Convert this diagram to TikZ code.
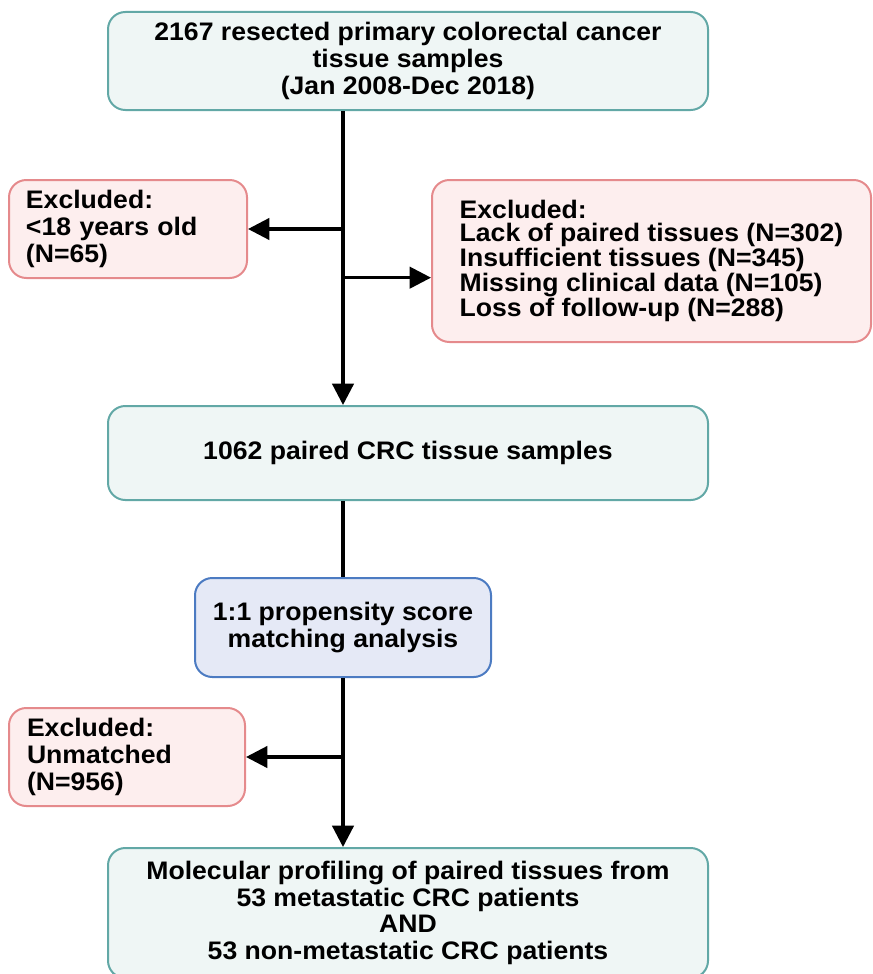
\documentclass[tikz,border=0pt]{standalone}
\usepackage{fontspec}
\setmainfont{Liberation Sans}[FakeStretch=1.05]
\usetikzlibrary{arrows.meta}
\definecolor{tealfill}{HTML}{EFF6F5}
\definecolor{tealdraw}{HTML}{62A8A6}
\definecolor{pinkfill}{HTML}{FDEEEE}
\definecolor{pinkdraw}{HTML}{E58A8C}
\definecolor{bluefill}{HTML}{E5E9F6}
\definecolor{bluedraw}{HTML}{4C7BC2}
\tikzset{
  box/.style={rounded corners=13pt, line width=1.5pt, inner sep=0pt,
    font=\bfseries\fontsize{19}{20}\selectfont},
  tealbox/.style={box, fill=tealfill, draw=tealdraw, align=center},
  pinkbox/.style={box, fill=pinkfill, draw=pinkdraw, align=left},
  bluebox/.style={box, fill=bluefill, draw=bluedraw, align=center},
  conn/.style={line width=2.4pt},
  arr/.style={conn, -{Triangle[length=16pt,width=16pt]}}
}
\begin{document}
\begin{tikzpicture}[x=0.75pt,y=-0.75pt]
\useasboundingbox (0,0) rectangle (873,974);
\clip (0,0) rectangle (873,974);
\node[tealbox, minimum width=600*0.75pt, minimum height=98*0.75pt] (top) at (408,61)
  {2167 resected primary colorectal cancer\\tissue samples\\(Jan 2008-Dec 2018)};
\node[pinkbox, minimum width=238*0.75pt, minimum height=98*0.75pt, text width=204*0.75pt] (ex1) at (128,229)
  {Excluded:\\<18 years old\\(N=65)};
\node[pinkbox, minimum width=439*0.75pt, minimum height=162*0.75pt,
  font=\bfseries\fontsize{19}{17.4}\selectfont] (ex2) at (651.5,261)
  {Excluded:\\Lack of paired tissues (N=302)\\Insufficient tissues (N=345)\\Missing clinical data (N=105)\\Loss of follow-up (N=288)};
\node[tealbox, minimum width=600*0.75pt, minimum height=94*0.75pt] (mid) at (408,453)
  {1062 paired CRC tissue samples};
\node[bluebox, minimum width=296*0.75pt, minimum height=99*0.75pt] (psm) at (343,627.5)
  {1:1 propensity score\\matching analysis};
\node[pinkbox, minimum width=236*0.75pt, minimum height=98*0.75pt, text width=200*0.75pt] (ex3) at (127,757)
  {Excluded:\\Unmatched\\(N=956)};
\node[tealbox, minimum width=600*0.75pt, minimum height=130*0.75pt, anchor=north] (bot) at (408,847)
  {Molecular profiling of paired tissues from\\53 metastatic CRC patients\\AND\\53 non-metastatic CRC patients};
\draw[arr] (psm |- top.south) -- (psm |- mid.north);
\draw[arr] (psm |- ex1.east) -- (ex1.east);
\draw[arr] ([yshift=-12.5pt]ex2.west -| psm) -- ([yshift=-12.5pt]ex2.west);
\draw[conn] (psm |- mid.south) -- (psm.north);
\draw[arr] (psm.south) -- (psm |- bot.north);
\draw[arr] (psm |- ex3.east) -- (ex3.east);
\end{tikzpicture}
\end{document}
